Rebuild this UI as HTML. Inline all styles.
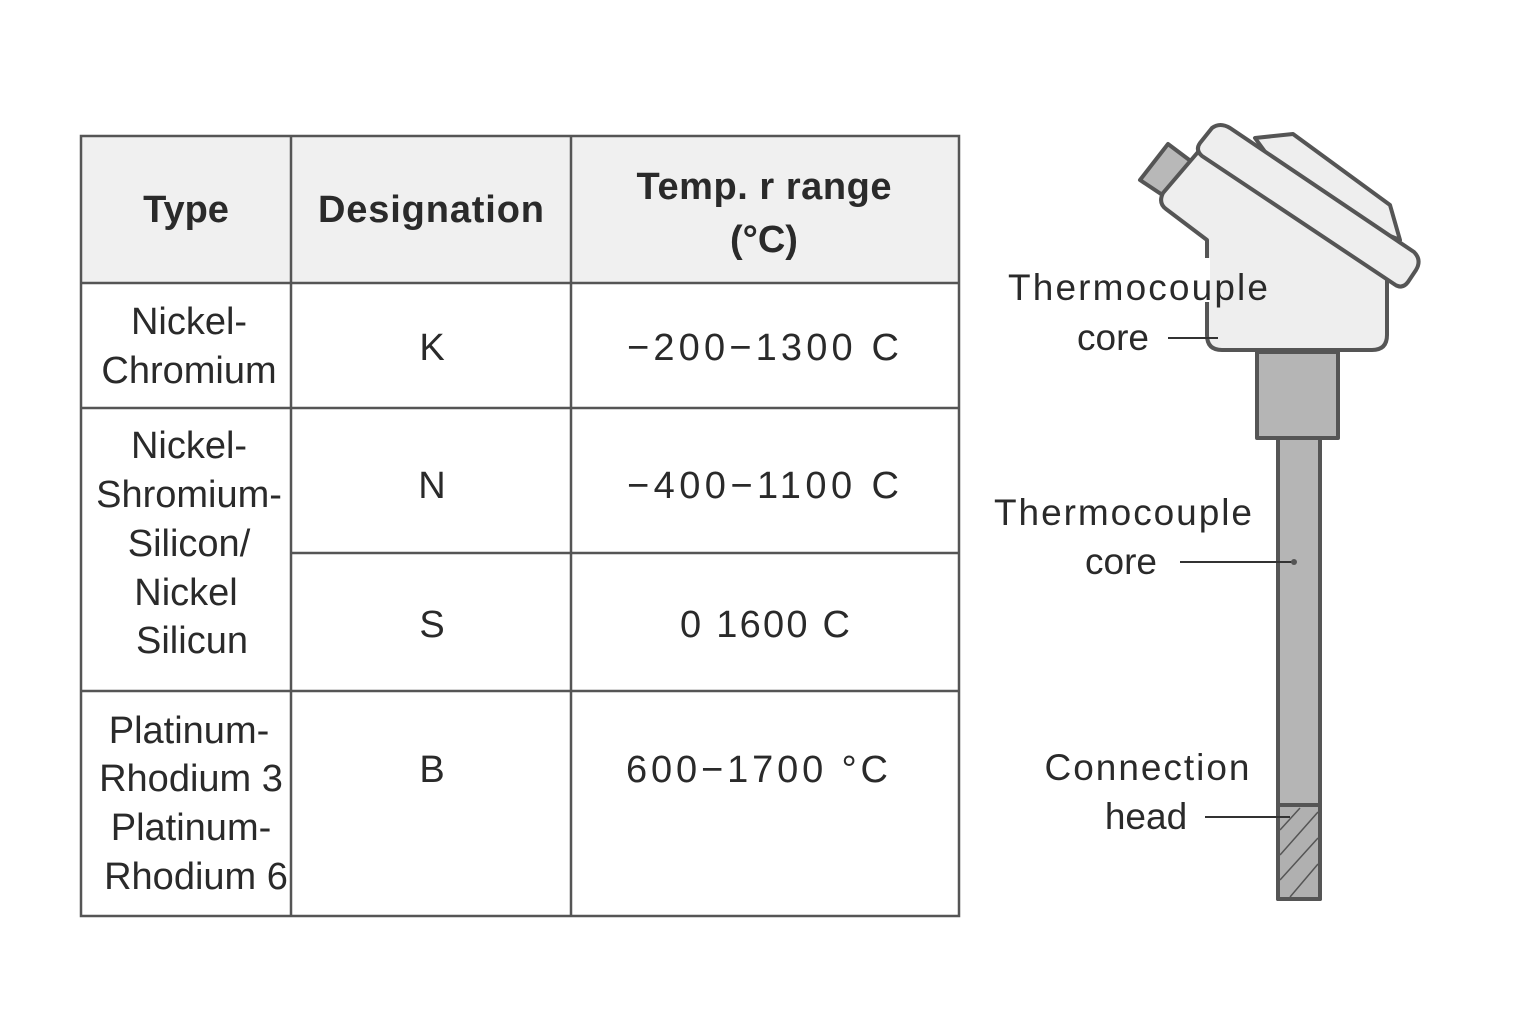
<!DOCTYPE html>
<html><head><meta charset="utf-8"><style>html,body{margin:0;padding:0;background:#fff}svg{display:block}</style></head>
<body>
<svg width="1536" height="1024" viewBox="0 0 1536 1024" xmlns="http://www.w3.org/2000/svg" font-family="Liberation Sans, sans-serif" fill="#2a2a2a">
<rect x="81" y="136" width="878" height="147" fill="#f0f0f0"/>
<g stroke="#555" stroke-width="2.5" fill="none">
<rect x="81" y="136" width="878" height="780"/>
<line x1="291" y1="136" x2="291" y2="916"/>
<line x1="571" y1="136" x2="571" y2="916"/>
<line x1="81" y1="283" x2="959" y2="283"/>
<line x1="81" y1="408" x2="959" y2="408"/>
<line x1="291" y1="553" x2="959" y2="553"/>
<line x1="81" y1="691" x2="959" y2="691"/>
</g>
<g font-weight="bold" font-size="38" text-anchor="middle">
<text x="186" y="222">Type</text>
<text x="431" y="222" textLength="226">Designation</text>
<text x="764" y="199" textLength="255">Temp. r range</text>
<text x="764" y="252">(°C)</text>
</g>
<g font-size="38" text-anchor="middle">
<text x="189" y="334">Nickel-</text>
<text x="189" y="383">Chromium</text>
<text x="432" y="360">K</text>
<text x="763" y="360" textLength="272">−200−1300 C</text>
<text x="189" y="458">Nickel-</text>
<text x="189" y="507">Shromium-</text>
<text x="189" y="556">Silicon/</text>
<text x="186" y="605">Nickel</text>
<text x="192" y="653">Silicun</text>
<text x="432" y="498">N</text>
<text x="763" y="498" textLength="272">−400−1100 C</text>
<text x="432" y="637">S</text>
<text x="765" y="637" textLength="170">0 1600 C</text>
<text x="189" y="743">Platinum-</text>
<text x="191" y="791">Rhodium 3</text>
<text x="191" y="840">Platinum-</text>
<text x="196" y="889">Rhodium 6</text>
<text x="432" y="782">B</text>
<text x="757" y="782" textLength="262">600−1700 °C</text>
</g>
<!-- thermocouple -->
<g stroke="#555" stroke-width="4" stroke-linejoin="round">
<rect x="1278" y="436" width="42" height="463" fill="#b5b5b5"/>
<rect x="1278" y="805" width="42" height="94" fill="#b0b0b0"/>
<g stroke-width="1.5"><line x1="1280" y1="830" x2="1300" y2="808"/><line x1="1280" y1="855" x2="1318" y2="812"/><line x1="1280" y1="880" x2="1318" y2="838"/><line x1="1290" y1="897" x2="1318" y2="864"/></g>
<rect x="1257" y="352" width="81" height="86" fill="#b5b5b5"/>
<polygon points="1140,180 1168,144 1192,162 1164,196" fill="#b8b8b8"/>
<polygon points="1255,138 1293,134 1390,205 1400,240 1300,200" fill="#eee"/>
<path d="M1198,152 L1163,193 Q1158,203 1166,209 L1207,240 L1207,335 Q1207,350 1222,350 L1372,350 Q1387,350 1387,335 L1387,275 L1300,220 Z" fill="#eee"/>
<path d="M1212,128 Q1220,122 1230,128 L1414,252 Q1422,260 1416,270 L1408,282 Q1402,290 1394,284 L1202,156 Q1195,150 1200,143 Z" fill="#eee"/>
</g>
<rect x="1200" y="258" width="10" height="44" fill="#fff"/>
<g font-size="37" text-anchor="middle">
<text x="1138" y="300" textLength="260">Thermocouple</text>
<text x="1113" y="350">core</text>
<text x="1123" y="525" textLength="258">Thermocouple</text>
<text x="1121" y="574">core</text>
<text x="1147" y="780" textLength="205">Connection</text>
<text x="1146" y="829">head</text>
</g>
<g stroke="#333" stroke-width="2">
<line x1="1168" y1="338" x2="1218" y2="338"/>
<line x1="1180" y1="562" x2="1293" y2="562"/>
<line x1="1205" y1="817" x2="1290" y2="817"/>
</g>
<circle cx="1294" cy="562" r="3" fill="#555"/>
</svg>
</body></html>
